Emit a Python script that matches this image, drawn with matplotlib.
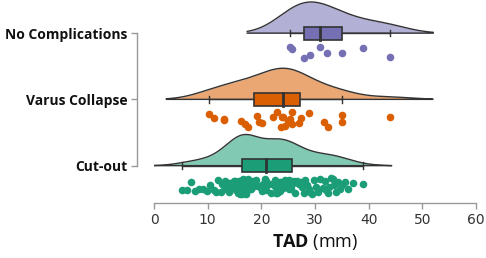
import numpy as np
import matplotlib
matplotlib.use("Agg")
import matplotlib.pyplot as plt

# groups, top to bottom
groups = ["No Complications", "Varus Collapse", "Cut-out"]
colors = ["#7570b3", "#d95f02", "#1b9e77"]

# TAD values (mm)
tad_none = [25.4, 25.8, 27.9, 29.0, 31.0, 32.3, 35.0, 39.0, 44.0]

tad_varus = [10.3, 11.2, 13.0, 13.0, 16.3, 16.9, 17.5, 19.1, 19.5, 20.2,
             22.2, 23.0, 23.6, 23.9, 24.1, 24.4, 24.9, 25.3, 25.7, 25.8,
             27.1, 27.4, 28.8, 31.6, 32.4, 35.0, 35.0, 44.0]

tad_cutout = [5.3, 6.2, 6.9, 7.6, 8.4, 9.1, 9.8, 10.5, 11.1, 11.6,
              12.0, 12.4, 12.7, 13.0, 13.3, 13.5, 13.8, 14.0, 14.2, 14.4,
              14.6, 14.8, 14.9, 15.1, 15.2, 15.4, 15.5, 15.6, 15.8, 15.9,
              16.0, 16.1, 16.2, 16.3, 16.4,
              16.5, 16.5, 16.6, 16.7, 16.7, 16.8, 16.9, 16.9, 17.0, 17.0,
              17.1, 17.1, 17.2, 17.2, 17.3, 17.3, 17.4, 17.5, 17.6, 17.7,
              17.8, 17.9, 18.0, 18.1, 18.3, 18.5, 18.7, 19.0, 19.3, 19.7,
              20.1, 20.4, 20.6, 20.7, 20.8,
              20.9, 21.2, 21.5, 21.8, 22.0, 22.2, 22.4, 22.5, 22.6, 22.7,
              22.8, 22.9, 23.0, 23.0, 23.1, 23.2, 23.3, 23.4, 23.5, 23.6,
              23.7, 23.8, 23.9, 24.0, 24.1, 24.3, 24.5, 24.7, 24.9, 25.1,
              25.2, 25.3, 25.4, 25.5, 25.6,
              25.8, 26.0, 26.2, 26.4, 26.6, 26.9, 27.1, 27.4, 27.6, 27.9,
              28.2, 28.5, 28.8, 29.1, 29.5, 29.8, 30.2, 30.6, 31.0, 31.4,
              31.8, 32.1, 32.4, 32.7, 33.0, 33.3, 33.6, 33.9, 34.2, 34.6,
              35.0, 35.5, 36.2, 37.0, 39.0]

data = [tad_none, tad_varus, tad_cutout]

plt.rcParams["mathtext.fontset"] = "custom"
plt.rcParams["mathtext.rm"] = "Open Sans"
plt.rcParams["mathtext.bf"] = "Open Sans:bold"

fig = plt.figure(figsize=(4.86, 2.58), dpi=100)
ax = fig.add_axes([154 / 486, 1 - 198.75 / 258, 322 / 486, 198.75 / 258])


def kde(vals, grid, bw):
    v = np.asarray(vals)[:, None]
    return np.exp(-0.5 * ((grid[None, :] - v) / bw) ** 2).sum(axis=0)


rng = np.random.default_rng(3)

for i, (vals, col) in enumerate(zip(data, colors)):
    v = np.asarray(vals)
    bw = v.std(ddof=1) * len(v) ** (-0.2)
    grid = np.linspace(v.min() - 2 * bw, v.max() + 2 * bw, 300)
    dens = kde(v, grid, bw)
    h = dens / dens.max() * 0.47
    # half violin above the baseline
    ax.fill_between(grid, i, i - h, color=col, alpha=0.55, lw=0, zorder=1)
    ax.plot(np.r_[grid, grid[::-1]], np.r_[i - h, np.full_like(grid, i)],
            color="#333333", lw=1.0, zorder=2)

    # box plot on the baseline
    q1, med, q3 = np.percentile(v, [25, 50, 75])
    iqr = q3 - q1
    lo = v[v >= q1 - 1.5 * iqr].min()
    hi = v[v <= q3 + 1.5 * iqr].max()
    ax.plot([lo, hi], [i, i], color="#333333", lw=1.0, zorder=3)
    ax.plot([lo, lo], [i - 0.05, i + 0.05], color="#333333", lw=1.0, zorder=3)
    ax.plot([hi, hi], [i - 0.05, i + 0.05], color="#333333", lw=1.0, zorder=3)
    ax.add_patch(plt.Rectangle((q1, i - 0.1), q3 - q1, 0.2, facecolor=col,
                               edgecolor="#333333", lw=1.2, zorder=4))
    ax.plot([med, med], [i - 0.1, i + 0.1], color="#333333", lw=2.0, zorder=5)

    # rain below
    jit = rng.uniform(0.19, 0.43, len(v))
    ax.scatter(v, i + jit, s=30, color=col, lw=0, zorder=3)

# spines first: set_position resets the ticks (offsets are in points)
for s in ["top", "right"]:
    ax.spines[s].set_visible(False)
ax.spines["left"].set_position(("outward", 12))
ax.spines["bottom"].set_position(("outward", 3))
ax.spines["left"].set_bounds(0, 2)
ax.spines["bottom"].set_bounds(0, 60)
for s in ["left", "bottom"]:
    ax.spines[s].set_color("#999999")
    ax.spines[s].set_linewidth(1.0)

ax.set_xlim(0, 60)
ax.set_ylim(2.5, -0.5)
ax.set_xticks(range(0, 61, 10))
ax.set_yticks(range(3))
ax.set_yticklabels(groups)
ax.tick_params(axis="both", color="#999999", length=4, width=1.0, pad=3)
for lab in ax.get_yticklabels():
    lab.set_fontfamily("Open Sans")
    lab.set_fontweight("bold")
    lab.set_fontsize(10)
    lab.set_color("#111111")
for lab in ax.get_xticklabels():
    lab.set_fontfamily("DejaVu Sans")
    lab.set_fontsize(10)
    lab.set_color("#333333")

ax.set_xlabel(r"$\mathbf{TAD}$ (mm)", fontfamily="Open Sans", fontsize=13,
              color="#111111", labelpad=4)

fig.savefig("out.png", dpi=100)
